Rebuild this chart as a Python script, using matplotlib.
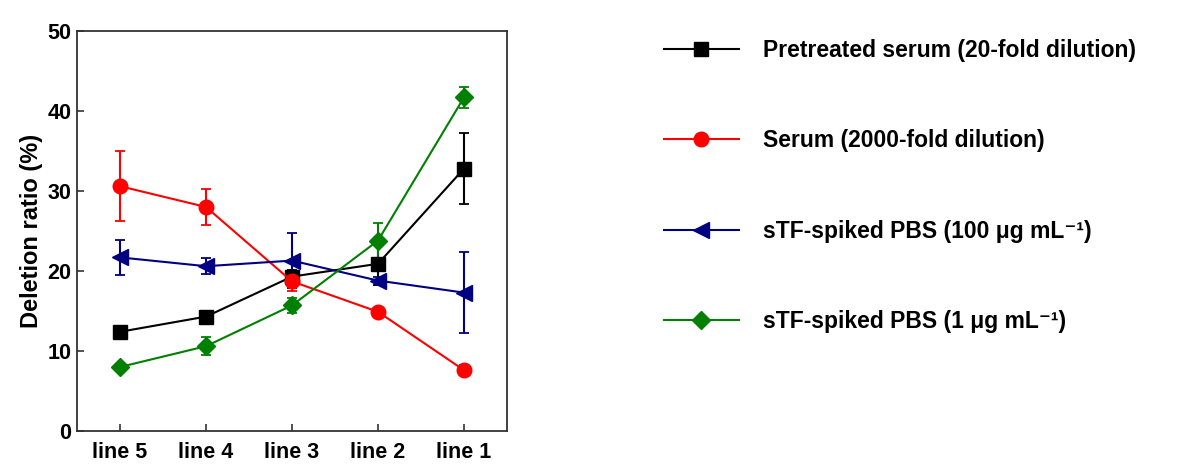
import matplotlib
matplotlib.use("Agg")
import matplotlib.pyplot as plt
from matplotlib.lines import Line2D

plt.rcParams['font.family'] = ['Liberation Sans', 'DejaVu Sans']
plt.rcParams['font.weight'] = 'bold'

categories = ["line 5", "line 4", "line 3", "line 2", "line 1"]

pretreated = [12.4, 14.3, 19.3, 20.9, 32.8]
pretreated_err = [0.3, 0.4, 0.8, 2.6, 4.4]

serum = [30.6, 28.0, 18.7, 14.9, 7.6]
serum_err = [4.4, 2.2, 1.2, 0.3, 0.6]

stf100 = [21.7, 20.6, 21.3, 18.8, 17.3]
stf100_err = [2.2, 1.0, 3.4, 0.5, 5.1]

stf1 = [8.0, 10.6, 15.7, 23.8, 41.7]
stf1_err = [0.3, 1.1, 0.9, 2.2, 1.3]

labels = ["Pretreated serum (20-fold dilution)",
          "Serum (2000-fold dilution)",
          "sTF-spiked PBS (100 \u03bcg mL\u207b\u00b9)",
          "sTF-spiked PBS (1 \u03bcg mL\u207b\u00b9)"]

fig = plt.figure(figsize=(11.85, 4.67), dpi=100)
ax = fig.add_axes([77/1185, 1-431/467, (507-77)/1185, (431-31)/467])

x = list(range(len(categories)))
series = [
    (pretreated, pretreated_err, 'black', 's', 9.5),
    (serum, serum_err, 'red', 'o', 10.5),
    (stf100, stf100_err, '#000080', '<', 11.5),
    (stf1, stf1_err, 'green', 'D', 9),
]
handles = []
for (vals, errs, col, mk, ms), lab in zip(series, labels):
    ax.errorbar(x, vals, yerr=errs, color=col, marker=mk, markersize=ms,
                linewidth=1.5, elinewidth=1.5, capsize=3.5, capthick=1.3)
    handles.append(Line2D([], [], color=col, marker=mk, markersize=ms, linewidth=1.5))

ax.set_xlim(-0.5, 4.5)
ax.set_ylim(0, 50)
ax.set_xticks(x)
ax.set_xticklabels(categories)
ax.set_yticks([0, 10, 20, 30, 40, 50])
ax.tick_params(axis='both', direction='in', length=5, width=1.2, labelsize=15.5,
               colors='#333333', labelcolor='black')
ax.tick_params(axis='x', pad=8)
ax.tick_params(axis='y', pad=4)
for s in ax.spines.values():
    s.set_linewidth(1.3)
    s.set_color('#333333')
ax.set_ylabel("Deletion ratio (%)", fontsize=17, fontweight='bold')
ax.yaxis.set_label_coords(-0.079, 0.5)

leg = fig.legend(handles, labels, loc='upper left', bbox_to_anchor=(643/1185, 1-18/467),
                 frameon=False, handlelength=3.3, handletextpad=1.05,
                 labelspacing=2.95, prop={'weight': 'bold', 'size': 16.5})

fig.savefig("out.png", dpi=100)
